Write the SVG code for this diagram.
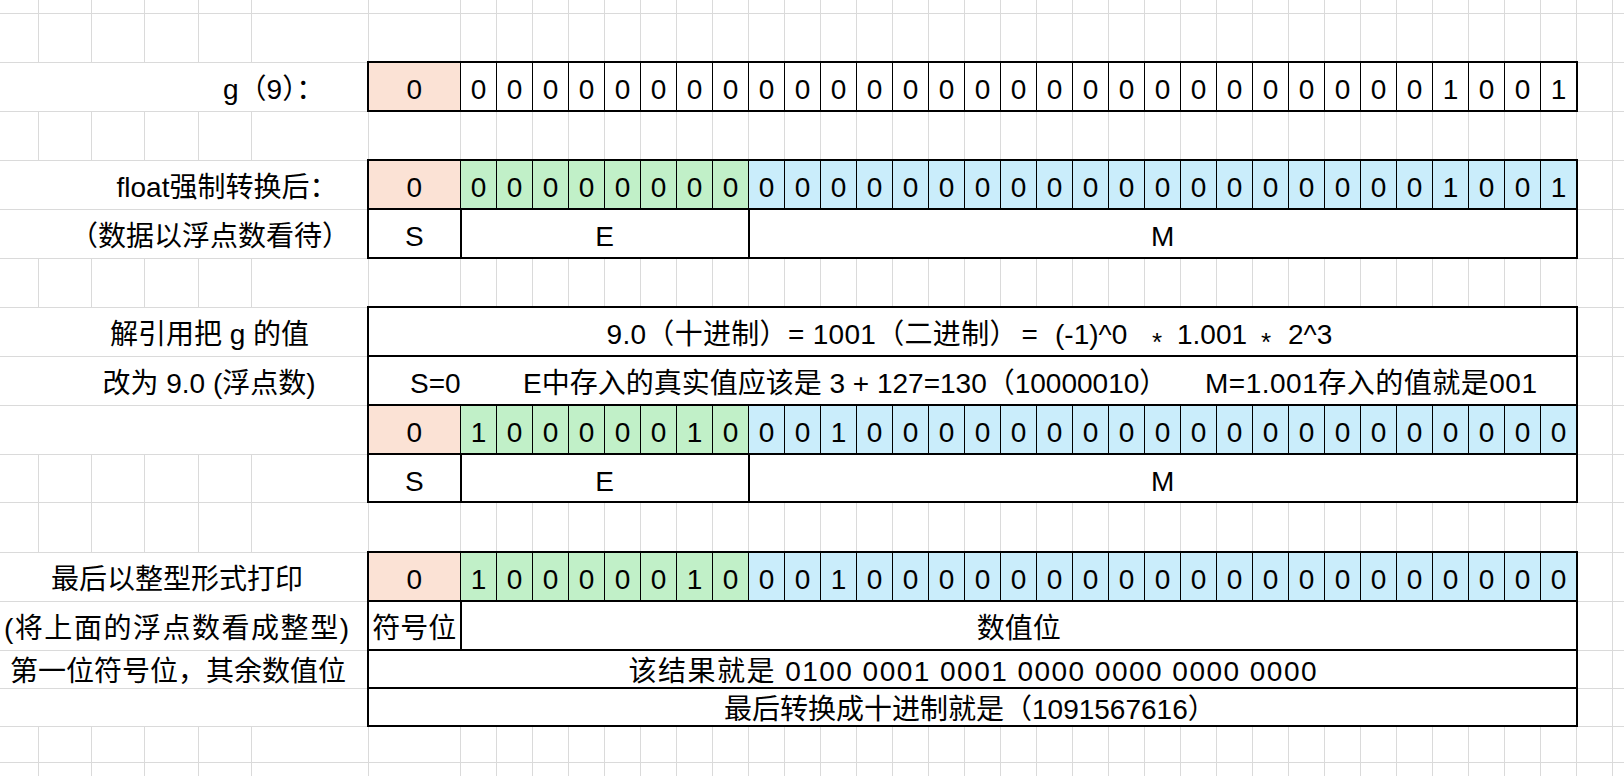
<svg xmlns="http://www.w3.org/2000/svg" width="1624" height="776" viewBox="0 0 1624 776">
<style>
text{font-family:"Liberation Sans","Noto Sans CJK SC",sans-serif;font-size:28px;fill:#000}
.c{text-anchor:middle}
.grid{stroke:#dadada;stroke-width:1;fill:none}
.thick{fill:none;stroke:#000;stroke-width:2}
.pk{fill:#FBE2D5}.gr{fill:#C1F0C8}.bl{fill:#CAEDFB}.wh{fill:#fff}
</style>
<defs>
<pattern id="gridv" patternUnits="userSpaceOnUse" x="460" y="0" width="36" height="8"><rect x="0" y="0" width="1" height="8" fill="#dadada"/></pattern>
<pattern id="bitv" patternUnits="userSpaceOnUse" x="460" y="0" width="36" height="8"><rect x="0" y="0" width="1" height="8" fill="#000"/></pattern>
</defs>
<rect width="1624" height="776" fill="#fff"/>
<g id="gridlines">
<path class="grid" d="M0 13.5H1624M0 62.5H1624M0 111.5H1624M0 160.5H1624M0 209.5H1624M0 258.5H1624M0 307.5H1624M0 356.5H1624M0 405.5H1624M0 454.5H1624M0 502.5H1624M0 552.5H1624M0 601.5H1624M0 650.5H1624M0 688.5H1624M0 726.5H1624M0 762.5H1624"/>
<path class="grid" d="M368.5 0V776"/>
<rect x="460" y="0" width="1153" height="776" fill="url(#gridv)"/>
<path class="grid" d="M38.5 0V62M91.5 0V62M144.5 0V62M198.5 0V62M251.5 0V62M38.5 111V160M91.5 111V160M144.5 111V160M198.5 111V160M251.5 111V160M38.5 258V307M91.5 258V307M144.5 258V307M198.5 258V307M251.5 258V307M38.5 454V552M91.5 454V552M144.5 454V552M198.5 454V552M251.5 454V552M38.5 726V776M91.5 726V776M144.5 726V776M198.5 726V776M251.5 726V776"/>
</g>
<g id="labels">
<text x="223" y="99">g（9）：</text>
<text x="116.5" y="197">float强制转换后：</text>
<text class="c" x="210" y="246">（数据以浮点数看待）</text>
<text class="c" x="209.5" y="344">解引用把 g 的值</text>
<text class="c" x="209" y="393">改为 9.0 (浮点数)</text>
<text class="c" x="177" y="589">最后以整型形式打印</text>
<text x="4" y="638" textLength="345">(将上面的浮点数看成整型)</text>
<text class="c" x="178" y="681">第一位符号位，其余数值位</text>
</g>
<g id="table-g9">
<rect class="pk" x="368" y="62" width="92" height="49"/>
<rect class="wh" x="460" y="62" width="1117" height="49"/>
<rect x="460" y="62" width="1101" height="49" fill="url(#bitv)"/>
<rect class="thick" x="368" y="62" width="1209" height="49"/>
<text class="c" y="99" x="414.3 478.5 514.5 550.5 586.5 622.5 658.5 694.5 730.5 766.5 802.5 838.5 874.5 910.5 946.5 982.5 1018.5 1054.5 1090.5 1126.5 1162.5 1198.5 1234.5 1270.5 1306.5 1342.5 1378.5 1414.5 1450.5 1486.5 1522.5 1558.5">00000000000000000000000000001001</text>
</g>
<g id="table-float">
<rect class="pk" x="368" y="160" width="92" height="49"/>
<rect class="gr" x="460" y="160" width="288" height="49"/>
<rect class="bl" x="748" y="160" width="829" height="49"/>
<rect x="460" y="160" width="1101" height="49" fill="url(#bitv)"/>
<rect class="wh" x="368" y="209" width="1209" height="49"/>
<rect class="thick" x="368" y="160" width="1209" height="98"/>
<path class="thick" d="M368 209H1577M461 209V258M749 209V258"/>
<text class="c" y="197" x="414.3 478.5 514.5 550.5 586.5 622.5 658.5 694.5 730.5 766.5 802.5 838.5 874.5 910.5 946.5 982.5 1018.5 1054.5 1090.5 1126.5 1162.5 1198.5 1234.5 1270.5 1306.5 1342.5 1378.5 1414.5 1450.5 1486.5 1522.5 1558.5">00000000000000000000000000001001</text>
<text class="c" x="414.3" y="246">S</text>
<text class="c" x="604.7" y="246">E</text>
<text class="c" x="1162.7" y="246">M</text>
</g>
<g id="table-deref">
<rect class="wh" x="368" y="307" width="1209" height="98"/>
<rect class="pk" x="368" y="405" width="92" height="49"/>
<rect class="gr" x="460" y="405" width="288" height="49"/>
<rect class="bl" x="748" y="405" width="829" height="49"/>
<rect x="460" y="405" width="1101" height="49" fill="url(#bitv)"/>
<rect class="wh" x="368" y="454" width="1209" height="48"/>
<rect class="thick" x="368" y="307" width="1209" height="195"/>
<path class="thick" d="M368 356H1577M368 405H1577M368 454H1577M461 454V502M749 454V502"/>
<text y="344"><tspan x="606.5" textLength="411">9.0（十进制）= 1001（二进制）</tspan><tspan x="1021.5">=</tspan><tspan x="1055">(-1)^0</tspan></text>
<text x="1152" y="351" style="font-size:26px">*</text>
<text x="1177" y="344">1.001</text>
<text x="1261" y="351" style="font-size:26px">*</text>
<text x="1288" y="344">2^3</text>
<text x="410" y="393">S=0</text>
<text x="523" y="393">E中存入的真实值应该是 3 + 127=130（10000010）</text>
<text x="1205" y="393" textLength="332">M=1.001存入的值就是001</text>
<text class="c" y="442" x="414.3 478.5 514.5 550.5 586.5 622.5 658.5 694.5 730.5 766.5 802.5 838.5 874.5 910.5 946.5 982.5 1018.5 1054.5 1090.5 1126.5 1162.5 1198.5 1234.5 1270.5 1306.5 1342.5 1378.5 1414.5 1450.5 1486.5 1522.5 1558.5">01000001000100000000000000000000</text>
<text class="c" x="414.3" y="490.5">S</text>
<text class="c" x="604.7" y="490.5">E</text>
<text class="c" x="1162.7" y="490.5">M</text>
</g>
<g id="table-int">
<rect class="pk" x="368" y="552" width="92" height="49"/>
<rect class="gr" x="460" y="552" width="288" height="49"/>
<rect class="bl" x="748" y="552" width="829" height="49"/>
<rect x="460" y="552" width="1101" height="49" fill="url(#bitv)"/>
<rect class="wh" x="368" y="601" width="1209" height="125"/>
<rect class="thick" x="368" y="552" width="1209" height="174"/>
<path class="thick" d="M368 601H1577M368 650H1577M368 688H1577M461 601V650"/>
<text class="c" y="589" x="414.3 478.5 514.5 550.5 586.5 622.5 658.5 694.5 730.5 766.5 802.5 838.5 874.5 910.5 946.5 982.5 1018.5 1054.5 1090.5 1126.5 1162.5 1198.5 1234.5 1270.5 1306.5 1342.5 1378.5 1414.5 1450.5 1486.5 1522.5 1558.5">01000001000100000000000000000000</text>
<text class="c" x="414.3" y="638">符号位</text>
<text class="c" x="1018.7" y="638">数值位</text>
<text x="628.5" y="681" textLength="688">该结果就是 0100 0001 0001 0000 0000 0000 0000</text>
<text x="724" y="719">最后转换成十进制就是（1091567616）</text>
</g>
<g id="connectors"/>
</svg>
